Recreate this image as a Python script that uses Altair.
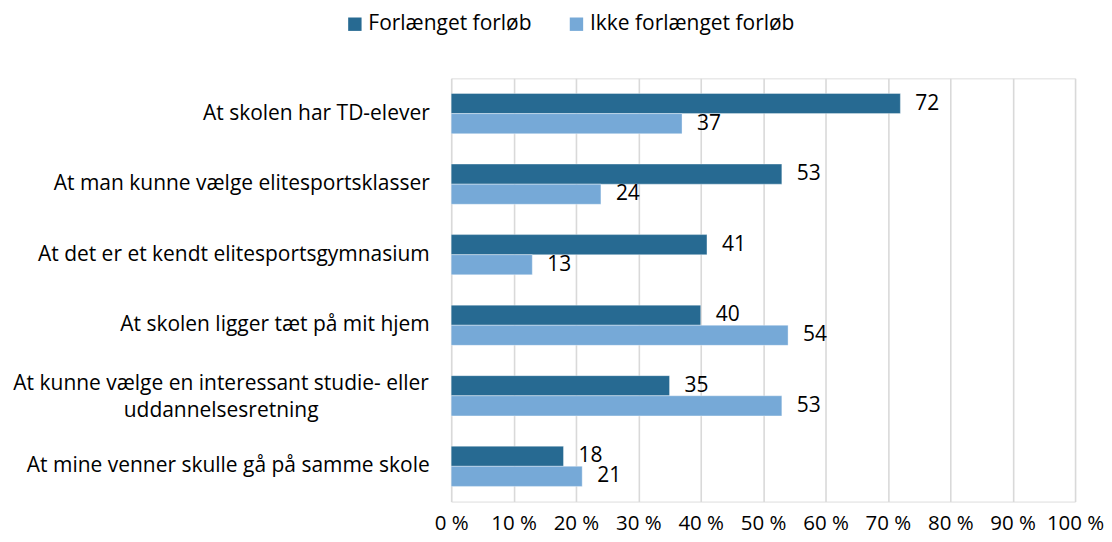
import altair as alt
import pandas as pd

categories = [
    "At skolen har TD-elever",
    "At man kunne vælge elitesportsklasser",
    "At det er et kendt elitesportsgymnasium",
    "At skolen ligger tæt på mit hjem",
    "At kunne vælge en interessant studie- eller uddannelsesretning",
    "At mine venner skulle gå på samme skole",
]
series = ["Forlænget forløb", "Ikke forlænget forløb"]
forlaenget = [72, 53, 41, 40, 35, 18]
ikke_forlaenget = [37, 24, 13, 54, 53, 21]
colors = ["#276A92", "#76A9D7"]

rows = []
for c, a, b in zip(categories, forlaenget, ikke_forlaenget):
    rows.append({"kategori": c, "serie": series[0], "værdi": a})
    rows.append({"kategori": c, "serie": series[1], "værdi": b})
df = pd.DataFrame(rows)

FONT = "Open Sans"
FS = 21

wrapped = categories[4]
test = "datum.value == '" + wrapped + "'"
label_expr = (
    test + " ? ['At kunne vælge en interessant studie- eller', 'uddannelsesretning'] : datum.value"
)

y = alt.Y(
    "kategori:N",
    sort=categories,
    title=None,
    scale=alt.Scale(paddingInner=0.43, paddingOuter=0.215),
    axis=alt.Axis(
        labelExpr=label_expr,
        labelFont=FONT,
        labelFontSize=FS,
        labelColor="#000000",
        labelAlign={"condition": {"test": test, "value": "center"}, "value": "right"},
        labelPadding={"condition": {"test": test, "value": 231}, "value": 22},
        labelOffset={"condition": {"test": test, "value": -12}, "value": 0},
        ticks=False,
        domain=False,
        minExtent=444,
        maxExtent=444,
        labelLimit=600,
        labelLineHeight=27,
    ),
)
x = alt.X(
    "værdi:Q",
    title=None,
    scale=alt.Scale(domain=[0, 100], nice=False),
    axis=alt.Axis(
        values=list(range(0, 101, 10)),
        labelExpr="datum.value + ' %'",
        labelFont=FONT,
        labelFontSize=20.5,
        labelColor="#000000",
        labelPadding=12,
        labelOverlap=False,
        labelFlush=False,
        ticks=False,
        domain=False,
        grid=True,
        gridColor="#D9D9D9",
        gridWidth=1.6,
    ),
)
color = alt.Color(
    "serie:N",
    sort=series,
    scale=alt.Scale(domain=series, range=colors),
    legend=alt.Legend(
        title=None,
        orient="none",
        legendX=-107,
        legendY=-65,
        direction="horizontal",
        symbolType="square",
        symbolSize=180,
        symbolStrokeWidth=0,
        labelFont=FONT,
        labelFontSize=FS,
        labelColor="#000000",
        labelLimit=400,
        labelOffset=3,
        columnPadding=34,
    ),
)
yoff = alt.YOffset("serie:N", sort=series)

bars = alt.Chart(df).mark_bar(stroke="#FFFFFF", strokeWidth=0.6, strokeOpacity=0.6).encode(
    y=y, x=x, color=color, yOffset=yoff
)
labels = alt.Chart(df).mark_text(
    align="left", baseline="middle", dx=15, font=FONT, fontSize=FS, color="#000000"
).encode(y=y, x=x, yOffset=yoff, text=alt.Text("værdi:Q"))

chart = (
    alt.layer(bars, labels)
    .properties(
        width=625,
        height=424,
        padding={"left": 0, "right": 0, "top": 5, "bottom": 0},
    )
    .configure_view(stroke=None)
    .configure(background="#FFFFFF")
)
chart.save("out.html", embed_options={"renderer": "svg", "actions": False})
